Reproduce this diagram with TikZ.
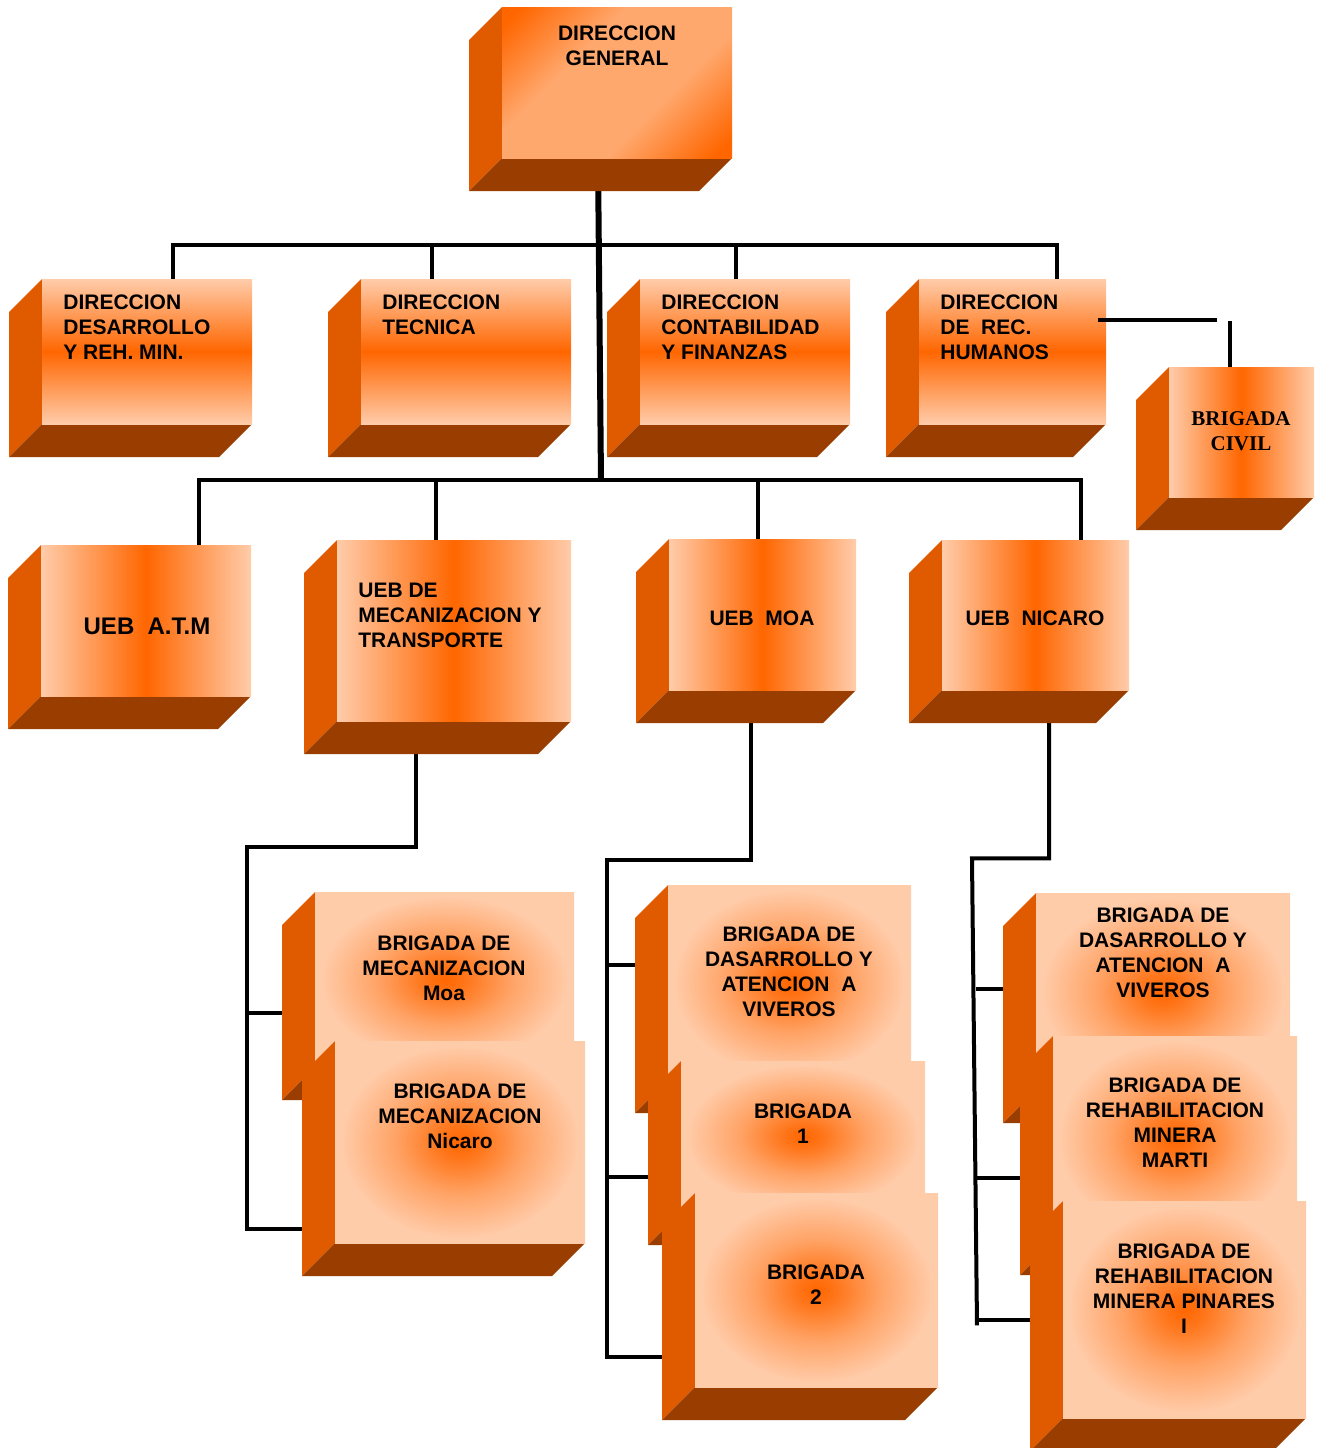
\documentclass[tikz,border=0pt]{standalone}
\usepackage{fontspec}
\setmainfont{Liberation Sans}
\newfontfamily\serifa{Liberation Serif}
\usetikzlibrary{calc,fit,backgrounds}

\definecolor{claro}{HTML}{FFCCAA}
\definecolor{naranja}{HTML}{FF6600}
\definecolor{dgclaro}{HTML}{FFA86E}
\definecolor{lado}{HTML}{E05A00}
\definecolor{fondo}{HTML}{993D00}

\pgfdeclarehorizontalshading{dgsombra}{100bp}{color(0bp)=(naranja); color(18bp)=(naranja);
  color(38bp)=(dgclaro); color(62bp)=(dgclaro); color(82bp)=(naranja); color(100bp)=(naranja)}
\pgfdeclareradialshading{radsombra}{\pgfpoint{0bp}{0bp}}{color(0bp)=(naranja);
  color(4bp)=(naranja!85!claro); color(13bp)=(naranja!40!claro); color(24bp)=(claro); color(50bp)=(claro)}

\tikzset{
  dgcara/.style={shading=dgsombra, shading angle=135},
  vcara/.style={top color=claro, bottom color=claro, middle color=naranja},
  hcara/.style={left color=claro, right color=claro, middle color=naranja},
  rcara/.style={shading=radsombra},
  linea/.style={line width=2pt},
  tronco/.style={line width=3pt},
  txt/.style={font=\fontsize{10.5}{12.5}\selectfont\bfseries, align=center, inner sep=0pt},
  txtl/.style={txt, align=left, anchor=west},
}

% caja en 3D: nombre, estilo de la cara, esquina nw, esquina se
\newcommand\cubo[4]{%
  \path (#3) coordinate (#1-nw) (#4) coordinate (#1-se);
  \fill[lado] (#1-nw) -- ++(-33,33) -- ($(#1-nw |- #1-se)+(-33,33)$) -- (#1-nw |- #1-se) -- cycle;
  \fill[fondo] (#1-nw |- #1-se) -- (#1-se) -- ++(-33,33) -- ($(#1-nw |- #1-se)+(-33,33)$) -- cycle;
  \node[fit=(#1-nw)(#1-se), inner sep=0pt, #2] (#1) {};
}

\begin{document}
\begin{tikzpicture}[x=0.5pt,y=-0.5pt]
    \useasboundingbox (0,0) rectangle (1321,1448);

    % direccion
    \cubo{dg}{dgcara}{502,7}{732,158}
    \cubo{desa}{vcara}{42,279}{252,424}
    \cubo{tec}{vcara}{361,279}{571,424}
    \cubo{cont}{vcara}{640,279}{850,424}
    \cubo{rh}{vcara}{919,279}{1106,424}
    \cubo{civil}{hcara}{1169,367}{1314,497}

    % UEB
    \cubo{atm}{hcara}{41,545}{251,696}
    \cubo{mec}{hcara}{337,540}{571,721}
    \cubo{moa}{hcara}{669,539}{856,690}
    \cubo{nic}{hcara}{942,540}{1129,690}

    % brigadas
    \cubo{bmoa}{rcara}{315,892}{574,1067}
    \cubo{bnic}{rcara}{335,1041}{585,1243}
    \cubo{viv1}{rcara}{668,885}{911,1080}
    \cubo{b1}{rcara}{681,1061}{925,1212}
    \cubo{b2}{rcara}{695,1193}{938,1387}
    \cubo{viv2}{rcara}{1036,893}{1290,1090}
    \cubo{marti}{rcara}{1053,1036}{1297,1242}
    \cubo{pin}{rcara}{1063,1201}{1306,1418}

    % textos
    \node[txt] (dgt) at (617,45.5) {DIRECCION\\GENERAL};
    \node[txtl] (desat) at (63,327) {DIRECCION\\DESARROLLO\\Y REH. MIN.};
    \node[txtl] (tect) at (382,314.5) {DIRECCION\\TECNICA};
    \node[txtl] (contt) at (661,327) {DIRECCION\\CONTABILIDAD\\Y FINANZAS};
    \node[txtl] (rht) at (940,327) {DIRECCION\\DE~~REC.\\HUMANOS};
    \node[txt, font=\fontsize{10.5}{12.5}\selectfont\serifa\bfseries] (civilt) at (1241,431) {BRIGADA\\CIVIL};
    \node[txt, font=\fontsize{12}{14}\selectfont\bfseries] (atmt) at (147,626) {UEB~~A.T.M};
    \node[txtl] (mect) at (358,615) {UEB DE\\MECANIZACION Y\\TRANSPORTE};
    \node[txt] (moat) at (762,618) {UEB~~MOA};
    \node[txt] (nict) at (1035,618) {UEB~~NICARO};
    \node[txt] (bmoat) at (444,968) {BRIGADA DE\\MECANIZACION\\Moa};
    \node[txt] (bnict) at (460,1116) {BRIGADA DE\\MECANIZACION\\Nicaro};
    \node[txt] (viv1t) at (789,972) {BRIGADA DE\\DASARROLLO Y\\ATENCION~~A\\VIVEROS};
    \node[txt] (b1t) at (803,1123.5) {BRIGADA\\1};
    \node[txt] (b2t) at (816,1284.5) {BRIGADA\\2};
    \node[txt] (viv2t) at (1163,953) {BRIGADA DE\\DASARROLLO Y\\ATENCION~~A\\VIVEROS};
    \node[txt] (martit) at (1175,1123) {BRIGADA DE\\REHABILITACION\\MINERA\\MARTI};
    \node[txt] (pint) at (1184,1289) {BRIGADA DE\\REHABILITACION\\MINERA PINARES\\I};

    % lineas
    \draw[linea] ($(rh.east)+(-8,-31.5)$) -- ++(119,0);
    \begin{scope}[on background layer]
        \draw[tronco] (dg.south) ++(-19,0) -- ++(3,322);
        \draw[linea] ($(desa.north)+(26,0)$) |- ($(rh.north)+(44.5,-34)$) -- ($(rh.north)+(44.5,0)$);
        \draw[linea] ($(tec.north)+(-34,0)$) -- ++(0,-34);
        \draw[linea] ($(cont.north)+(-9,0)$) -- ++(0,-34);
        \draw[linea] ($(atm.north)+(53,0)$) |- ($(nic.north)+(45.5,-60)$) -- ($(nic.north)+(45.5,0)$);
        \draw[linea] ($(mec.north)+(-18,0)$) -- ++(0,-60);
        \draw[linea] ($(moa.north)+(-4.5,0)$) -- ++(0,-59);
        \draw[linea] ($(civil.north)+(-11.5,0)$) -- ++(0,-46);

        \draw[linea] ($(mec.south)+(-38,0)$) |- ++(-169,126) |- ($(bnic.south west)+(0,-14)$);
        \draw[linea] ($(bmoa.west)+(-68,33)$) -- ++(68,0);

        \draw[linea] ($(moa.south)+(-11.5,0)$) |- ++(-144,170) |- ($(b2.west)+(0,67)$);
        \draw[linea] ($(viv1.west)+(-61,-17.5)$) -- ++(61,0);
        \draw[linea] ($(b1.west)+(-74,40.5)$) -- ++(74,0);

        \draw[linea] ($(nic.south)+(13.5,0)$) |- ++(-77,168) -- ++(5,467);
        \draw[linea] ($(viv2.west)+(-60,-2.5)$) -- ++(60,0);
        \draw[linea] ($(marti.west)+(-76,39)$) -- ++(76,0);
        \draw[linea] ($(pin.west)+(-86,10.5)$) -- ++(86,0);
    \end{scope}
\end{tikzpicture}
\end{document}
